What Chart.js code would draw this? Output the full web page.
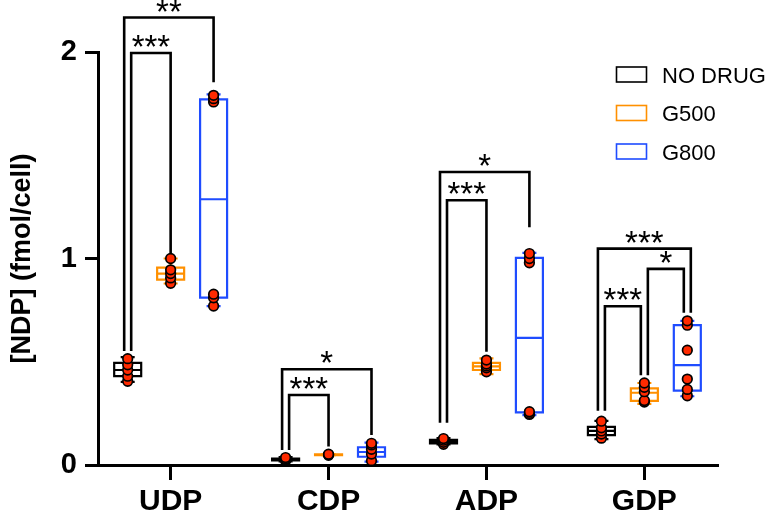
<!DOCTYPE html>
<html>
<head>
<meta charset="utf-8">
<script src="https://cdn.jsdelivr.net/npm/chart.js@4.4.0/dist/chart.umd.min.js"></script>
<style>
  html, body { margin: 0; padding: 0; background: #ffffff; }
  #wrap { width: 771px; height: 528px; }
</style>
</head>
<body>
<div id="wrap"><canvas id="c" width="771" height="528"></canvas></div>
<script>
// ---- data ----
const categories = ['UDP', 'CDP', 'ADP', 'GDP'];
const groups = ['NO DRUG', 'G500', 'G800'];
const yTicks = [0, 1, 2];

// box summaries, one row per category: [min, q1, median, q3, max]
const boxNoDrug = [[0.403, 0.43, 0.46, 0.495, 0.522], [0.018, 0.022, 0.026, 0.031, 0.038], [0.10, 0.105, 0.115, 0.122, 0.13], [0.125, 0.145, 0.165, 0.185, 0.214]];
const boxG500   = [[0.879, 0.898, 0.927, 0.956, 1.00], [0.046, 0.048, 0.05, 0.051, 0.053], [0.44, 0.46, 0.478, 0.495, 0.516], [0.296, 0.311, 0.35, 0.371, 0.397]];
const boxG800   = [[0.769, 0.811, 1.287, 1.771, 1.795], [0.016, 0.04, 0.063, 0.086, 0.108], [0.242, 0.255, 0.616, 1.003, 1.027], [0.333, 0.36, 0.484, 0.677, 0.698]];

// individual replicates, one row per category
const dotsNoDrug = [[0.405, 0.43, 0.46, 0.485, 0.515], [0.02, 0.025, 0.03, 0.036], [0.10, 0.11, 0.12, 0.128], [0.13, 0.15, 0.165, 0.18, 0.212]];
const dotsG500   = [[0.88, 0.906, 0.927, 0.945, 1.00], [0.047, 0.05, 0.052], [0.451, 0.471, 0.48, 0.489, 0.508], [0.305, 0.312, 0.355, 0.376, 0.397]];
const dotsG800   = [[0.77, 0.81, 0.827, 1.758, 1.774, 1.79], [0.021, 0.053, 0.076, 0.097, 0.105], [0.245, 0.25, 0.258, 0.979, 1.0, 1.024], [0.335, 0.366, 0.416, 0.556, 0.677, 0.698]];

// significance comparisons within a category (group index from -> to)
const sigCategory = [0, 0, 1, 1, 2, 2, 3, 3, 3];
const sigFrom     = [0, 0, 0, 0, 0, 0, 0, 0, 1];
const sigTo       = [2, 1, 2, 1, 2, 1, 2, 1, 2];
const sigTop      = [2.167, 1.995, 0.464, 0.339, 1.419, 1.282, 1.048, 0.769, 0.95];
const sigLeftEnd  = [0.552, 0.552, 0.073, 0.073, 0.205, 0.205, 0.263, 0.263, 0.435];
const sigRightEnd = [1.854, 1.026, 0.145, 0.089, 1.151, 0.548, 0.737, 0.435, 0.737];
const sigLabels   = ['**', '***', '*', '***', '*', '***', '***', '***', '*'];

// ---- styling ----
const FONT = "'Liberation Sans', Arial, Helvetica, sans-serif";
const groupColors = ['#000000', '#ff9000', '#1f4cff'];
const DOT_FILL = '#ff2a00';
const GROUP_SHIFT = 0.272;     // x offset of each group inside a category (category units)
const BOX_HALF = 13.5;         // px
const CAP_HALF = 7;            // px
const LEG_GAP = 7;             // px between bracket legs that share a group

const boxSets = [boxNoDrug, boxG500, boxG800];
const dotSets = [dotsNoDrug, dotsG500, dotsG800];
const xOf = (cat, g) => cat + (g - 1) * GROUP_SHIFT;

const datasets = dotSets.map((rows, g) => ({
  label: groups[g],
  data: rows.flatMap((vals, c) => vals.map(v => ({ x: xOf(c, g), y: v }))),
  pointRadius: 4.8,
  pointBorderWidth: 1.7,
  pointBorderColor: '#000000',
  pointBackgroundColor: DOT_FILL,
  showLine: false,
  clip: false
}));

// boxes, medians and whiskers under the dots
const boxPlugin = {
  id: 'boxes',
  beforeDatasetsDraw(chart) {
    const { ctx, scales: { x, y } } = chart;
    ctx.save();
    ctx.lineWidth = 2.2;
    boxSets.forEach((rows, g) => {
      ctx.strokeStyle = groupColors[g];
      rows.forEach((b, c) => {
        const [mn, q1, md, q3, mx] = b;
        const cx = x.getPixelForValue(xOf(c, g));
        const yq1 = y.getPixelForValue(q1), yq3 = y.getPixelForValue(q3);
        const ymd = y.getPixelForValue(md), ymn = y.getPixelForValue(mn), ymx = y.getPixelForValue(mx);
        ctx.beginPath();
        ctx.rect(cx - BOX_HALF, yq3, 2 * BOX_HALF, yq1 - yq3);
        ctx.moveTo(cx - BOX_HALF, ymd); ctx.lineTo(cx + BOX_HALF, ymd);
        ctx.moveTo(cx, yq3); ctx.lineTo(cx, ymx);
        ctx.moveTo(cx, yq1); ctx.lineTo(cx, ymn);
        ctx.moveTo(cx - CAP_HALF, ymx); ctx.lineTo(cx + CAP_HALF, ymx);
        ctx.moveTo(cx - CAP_HALF, ymn); ctx.lineTo(cx + CAP_HALF, ymn);
        ctx.stroke();
      });
    });
    ctx.restore();
  }
};

// significance brackets with star labels
const bracketPlugin = {
  id: 'brackets',
  afterDatasetsDraw(chart) {
    const { ctx, scales: { x, y } } = chart;
    // legs meeting at the same group are spread side by side, nested ones outward
    const ends = {};
    sigLabels.forEach((_, i) => {
      const c = sigCategory[i];
      const kf = c + ':' + sigFrom[i], kt = c + ':' + sigTo[i];
      (ends[kf] = ends[kf] || []).push({ i, side: 'L', d: sigTo[i] - sigFrom[i] });
      (ends[kt] = ends[kt] || []).push({ i, side: 'R', d: sigFrom[i] - sigTo[i] });
    });
    const legX = {};
    Object.keys(ends).forEach(k => {
      const list = ends[k];
      list.sort((a, b) => (Math.sign(a.d) - Math.sign(b.d)) || (b.d - a.d));
      const [c, g] = k.split(':').map(Number);
      const base = x.getPixelForValue(xOf(c, g));
      list.forEach((e, n) => {
        legX[e.i + e.side] = base + (n - (list.length - 1) / 2) * LEG_GAP;
      });
    });
    ctx.save();
    ctx.strokeStyle = '#000000';
    ctx.fillStyle = '#000000';
    ctx.lineWidth = 2.6;
    ctx.lineJoin = 'miter';
    ctx.font = '33px ' + FONT;
    ctx.textAlign = 'center';
    ctx.textBaseline = 'alphabetic';
    sigLabels.forEach((lab, i) => {
      const xl = legX[i + 'L'], xr = legX[i + 'R'];
      const yt = y.getPixelForValue(sigTop[i]);
      ctx.beginPath();
      ctx.moveTo(xl, y.getPixelForValue(sigLeftEnd[i]));
      ctx.lineTo(xl, yt);
      ctx.lineTo(xr, yt);
      ctx.lineTo(xr, y.getPixelForValue(sigRightEnd[i]));
      ctx.stroke();
      ctx.fillText(lab, (xl + xr) / 2, yt + 5);
    });
    ctx.restore();
  }
};

// outlined swatches with group names
const legendPlugin = {
  id: 'groupLegend',
  afterDraw(chart) {
    const { ctx } = chart;
    ctx.save();
    ctx.lineWidth = 1.6;
    ctx.font = '22px ' + FONT;
    ctx.textAlign = 'left';
    ctx.textBaseline = 'alphabetic';
    groups.forEach((name, g) => {
      const top = 67 + g * 38.5;
      ctx.strokeStyle = groupColors[g];
      ctx.strokeRect(616.5, top, 30, 15);
      ctx.fillStyle = '#000000';
      ctx.fillText(name, 662, top + 15.5);
    });
    ctx.restore();
  }
};

new Chart(document.getElementById('c'), {
  type: 'scatter',
  data: { datasets },
  plugins: [boxPlugin, bracketPlugin, legendPlugin],
  options: {
    responsive: false,
    animation: false,
    devicePixelRatio: 1,
    layout: { padding: { top: 52, right: 54, left: 0, bottom: 0 } },
    plugins: { legend: { display: false }, tooltip: { enabled: false } },
    scales: {
      x: {
        type: 'linear',
        min: -0.46,
        max: 3.46,
        afterBuildTicks: s => { s.ticks = categories.map((_, i) => ({ value: i })); },
        afterFit: s => { s.height = 63; },
        ticks: {
          callback: v => categories[v],
          font: { family: FONT, size: 30, weight: 'bold' },
          color: '#000000',
          padding: 4,
          maxRotation: 0,
          autoSkip: false
        },
        grid: { drawOnChartArea: false, color: '#000000', tickColor: '#000000', tickLength: 15, lineWidth: 3, tickWidth: 3 },
        border: { color: '#000000', width: 3 }
      },
      y: {
        min: 0,
        max: 2,
        afterBuildTicks: s => { s.ticks = yTicks.map(v => ({ value: v })); },
        afterFit: s => { s.width = 98; },
        ticks: {
          font: { family: FONT, size: 29, weight: 'bold' },
          color: '#000000',
          padding: 8
        },
        grid: { drawOnChartArea: false, color: '#000000', tickColor: '#000000', tickLength: 13, lineWidth: 3, tickWidth: 3 },
        border: { color: '#000000', width: 3 },
        title: {
          display: true,
          text: '[NDP] (fmol/cell)',
          font: { family: FONT, size: 27, weight: 'bold' },
          color: '#000000',
          padding: { top: 6, bottom: 0 }
        }
      }
    }
  }
});
</script>
</body>
</html>
